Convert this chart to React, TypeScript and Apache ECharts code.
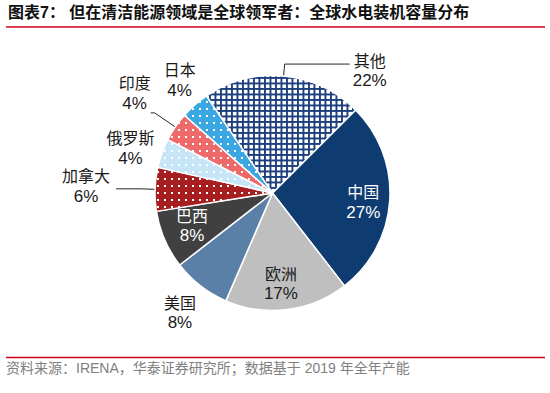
import React, { useEffect, useRef } from 'react';
import * as echarts from 'echarts';

// ---- data ----
const regions = ['中国', '欧洲', '美国', '巴西', '加拿大', '俄罗斯', '印度', '日本', '其他'];
const shares = [27, 17, 8, 8, 6, 4, 4, 4, 22];
const titleText = '图表7： 但在清洁能源领域是全球领军者：全球水电装机容量分布';
const sourceText = '资料来源：IRENA，华泰证券研究所；数据基于 2019 年全年产能';

// label groups
const innerLabelRegions = ['中国', '欧洲', '巴西'];
const outerLabelRegions = ['美国', '俄罗斯', '日本'];

// ---- styles ----
const CJK = "'Noto Sans CJK SC', sans-serif";
const LATIN = "'Liberation Sans', Arial, 'Noto Sans CJK SC', sans-serif";
const CENTER: [number, number] = [272.5, 193];
const R = 117.5;

const linedLayout: Record<string, any> = {
  '加拿大': { length: 15, length2: 24, distance: 6, padding: [0, 0, 6, 0] },
  '印度': { length: 25, length2: 4, distance: 0, padding: [0, 0, 40, 0] },
  '其他': { length: 12, length2: 65, distance: 3, padding: [12, 0, 0, 0] },
};
// small label nudges (label series index -> region -> [dx, dy])
const labelNudges: Record<number, Record<string, [number, number]>> = {
  1: { '中国': [0, 3], '欧洲': [-3, 0], '巴西': [3, -4] },
  2: { '日本': [7, 0], '俄罗斯': [0, 6] },
};
const whiteLabel = ['中国', '巴西'];

function dotPattern(bg: string, dot: string) {
  const s = 7;
  const c = document.createElement('canvas');
  c.width = s; c.height = s;
  const ctx = c.getContext('2d')!;
  ctx.fillStyle = bg; ctx.fillRect(0, 0, s, s);
  ctx.fillStyle = dot; ctx.fillRect(3, 3, 2, 2);
  return { image: c, repeat: 'repeat', imageWidth: s, imageHeight: s } as any;
}
function gridPattern(line: string) {
  const s = 11;
  const w = 1.9;
  const c = document.createElement('canvas');
  c.width = s; c.height = s;
  const ctx = c.getContext('2d')!;
  ctx.fillStyle = '#ffffff'; ctx.fillRect(0, 0, s, s);
  ctx.fillStyle = line;
  ctx.fillRect(0, 0, w, s); ctx.fillRect(5.5, 0, w, s);
  ctx.fillRect(0, 0, s, w); ctx.fillRect(0, 5.5, s, w);
  return { image: c, repeat: 'repeat', imageWidth: s, imageHeight: s } as any;
}

const rich = {
  n: { fontSize: 16, lineHeight: 21, align: 'center', fontFamily: CJK },
  p: { fontSize: 17, lineHeight: 21, align: 'center', fontFamily: LATIN },
};
const fmt = (p: any) => `{n|${p.name}}\n{p|${p.value}%}`;

export default function App() {
  const ref = useRef<HTMLDivElement>(null);
  useEffect(() => {
    if (!ref.current) return;
    const chart = echarts.init(ref.current, undefined, { renderer: 'svg' });
    const fills: Record<string, any> = {
      '中国': '#0e3b70',
      '欧洲': '#bfbfbf',
      '美国': '#5b80a8',
      '巴西': '#404040',
      '加拿大': dotPattern('#a81d1f', '#ffffff'),
      '俄罗斯': dotPattern('#c6e5f7', '#ffffff'),
      '印度': dotPattern('#ee6a6a', '#ffffff'),
      '日本': dotPattern('#3aa6e2', '#ffffff'),
      '其他': gridPattern('#1d3f7e'),
    };

    const mainData = regions.map((name, i) => {
      const lay = linedLayout[name];
      return {
        name,
        value: shares[i],
        itemStyle: { color: fills[name] },
        label: lay
          ? { show: true, position: 'outside', padding: lay.padding, distanceToLabelLine: lay.distance }
          : { show: false },
        labelLine: lay ? { show: true, length: lay.length, length2: lay.length2 } : { show: false },
      };
    });
    const labelData = (group: string[]) =>
      regions.map((name, i) => ({
        name,
        value: shares[i],
        label: group.includes(name)
          ? { show: true, color: whiteLabel.includes(name) ? '#ffffff' : '#1a1a1a' }
          : { show: false },
      }));

    const transparentSeries = (radius: [number, number], group: string[]) => ({
      type: 'pie',
      center: CENTER,
      radius,
      startAngle: 45,
      clockwise: true,
      silent: true,
      avoidLabelOverlap: false,
      itemStyle: { color: 'rgba(0,0,0,0)', borderWidth: 0 },
      emphasis: { disabled: true },
      label: { position: 'inside', formatter: fmt, rich, color: '#1a1a1a' },
      labelLine: { show: false },
      labelLayout: (params: any) => {
        const n = labelNudges[params.seriesIndex]?.[regions[params.dataIndex]];
        return n ? { dx: n[0], dy: n[1] } : {};
      },
      data: labelData(group),
      z: 3,
    });

    chart.setOption({
      animation: false,
      graphic: [
        {
          type: 'text', left: 8, top: 4,
          style: { text: titleText, fontSize: 16, fontWeight: 'bold', fill: '#111111', fontFamily: LATIN },
        },
        {
          type: 'line', shape: { x1: 6, y1: 27, x2: 545, y2: 27 },
          style: { stroke: '#d0021b', lineWidth: 1.5 },
        },
        {
          type: 'line', shape: { x1: 6, y1: 357.5, x2: 545, y2: 357.5 },
          style: { stroke: '#d0021b', lineWidth: 1.5 },
        },
        {
          type: 'text', left: 6, top: 361,
          style: { text: sourceText, fontSize: 14, fill: '#808080', fontFamily: LATIN },
        },
      ],
      series: [
        {
          type: 'pie',
          center: CENTER,
          radius: [0, R],
          startAngle: 45,
          clockwise: true,
          silent: true,
          avoidLabelOverlap: false,
          itemStyle: { borderColor: '#ffffff', borderWidth: 1.5 },
          emphasis: { disabled: true },
          label: { formatter: fmt, rich, color: '#1a1a1a' },
          labelLine: { lineStyle: { color: '#262626', width: 1 }, minTurnAngle: 0, smooth: false },
          data: mainData,
        },
        transparentSeries([58, 118], innerLabelRegions),
        transparentSeries([118, 178], outerLabelRegions),
      ],
    } as any);
    return () => chart.dispose();
  }, []);
  return <div ref={ref} style={{ width: 550, height: 393, position: 'absolute', left: 0, top: 0 }} />;
}
